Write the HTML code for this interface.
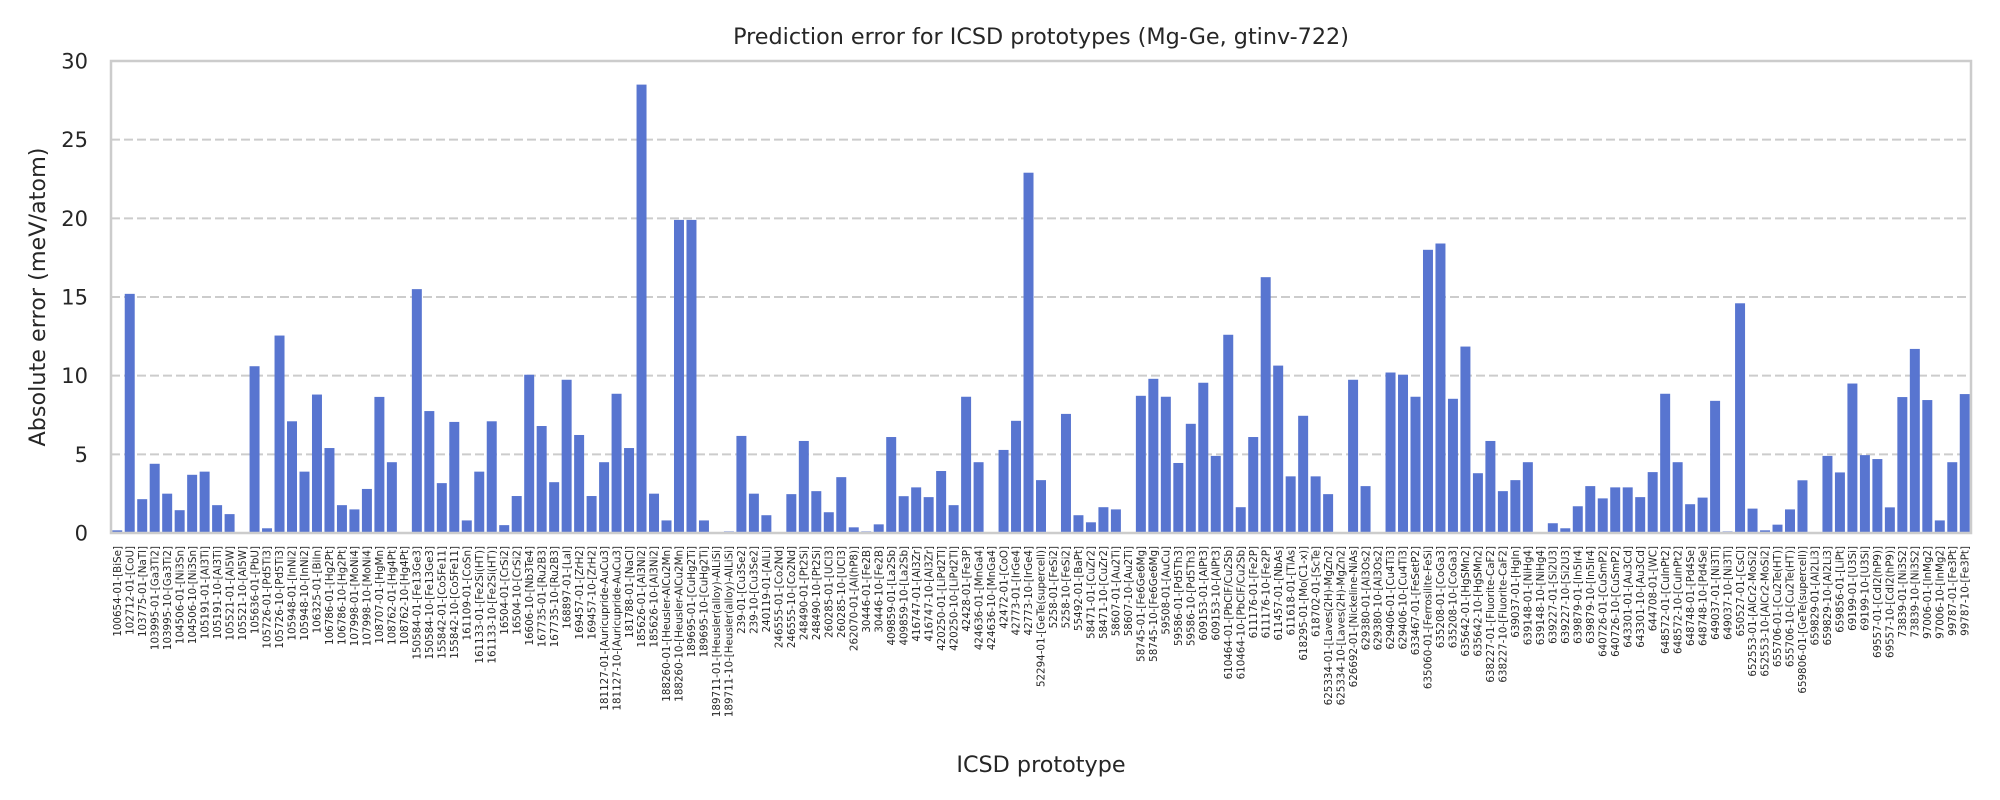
<!DOCTYPE html>
<html><head><meta charset="utf-8"><style>
html,body{margin:0;padding:0;background:#fff;}
svg{display:block;font-family:"DejaVu Sans","Liberation Sans",sans-serif;}
</style></head><body>
<svg id="chart" width="2000" height="800" viewBox="0 0 2000 800" xmlns="http://www.w3.org/2000/svg">
<text x="1041" y="44" font-size="22.3" text-anchor="middle" fill="#262626">Prediction error for ICSD prototypes (Mg-Ge, gtinv-722)</text>
<g id="grid"></g>
<g id="bars"></g>
<rect x="111" y="61" width="1860" height="472" fill="none" stroke="#cccccc" stroke-width="2.5"/>
<g id="yticks"></g>
<g id="xticks"></g>
<text transform="translate(45,297) rotate(-90)" font-size="22.3" text-anchor="middle" fill="#262626">Absolute error (meV/atom)</text>
<text x="1041" y="772" font-size="22.3" text-anchor="middle" fill="#262626">ICSD prototype</text>
</svg>
<script>
const categories = ["100654-01-[BiSe]","102712-01-[CoU]","103775-01-[NaTl]","103995-01-[Ga3Ti2]","103995-10-[Ga3Ti2]","104506-01-[Ni3Sn]","104506-10-[Ni3Sn]","105191-01-[Al3Ti]","105191-10-[Al3Ti]","105521-01-[Al5W]","105521-10-[Al5W]","105636-01-[PbU]","105726-01-[Pd5Ti3]","105726-10-[Pd5Ti3]","105948-01-[InNi2]","105948-10-[InNi2]","106325-01-[BiIn]","106786-01-[Hg2Pt]","106786-10-[Hg2Pt]","107998-01-[MoNi4]","107998-10-[MoNi4]","108707-01-[HgMn]","108762-01-[Hg4Pt]","108762-10-[Hg4Pt]","150584-01-[Fe13Ge3]","150584-10-[Fe13Ge3]","155842-01-[Co5Fe11]","155842-10-[Co5Fe11]","161109-01-[CoSn]","161133-01-[Fe2Si(HT)]","161133-10-[Fe2Si(HT)]","16504-01-[CrSi2]","16504-10-[CrSi2]","16606-10-[Nb3Te4]","167735-01-[Ru2B3]","167735-10-[Ru2B3]","168897-01-[LaI]","169457-01-[ZrH2]","169457-10-[ZrH2]","181127-01-[Auricupride-AuCu3]","181127-10-[Auricupride-AuCu3]","181788-01-[NaCl]","185626-01-[Al3Ni2]","185626-10-[Al3Ni2]","188260-01-[Heusler-AlCu2Mn]","188260-10-[Heusler-AlCu2Mn]","189695-01-[CuHg2Ti]","189695-10-[CuHg2Ti]","189711-01-[Heusler(alloy)-AlLiSi]","189711-10-[Heusler(alloy)-AlLiSi]","239-01-[Cu3Se2]","239-10-[Cu3Se2]","240119-01-[AlLi]","246555-01-[Co2Nd]","246555-10-[Co2Nd]","248490-01-[Pt2Si]","248490-10-[Pt2Si]","260285-01-[UCl3]","260285-10-[UCl3]","262070-01-[Al(hP8)]","30446-01-[Fe2B]","30446-10-[Fe2B]","409859-01-[La2Sb]","409859-10-[La2Sb]","416747-01-[Al3Zr]","416747-10-[Al3Zr]","420250-01-[LiPd2Tl]","420250-10-[LiPd2Tl]","42428-01-[Fe3P]","424636-01-[MnGa4]","424636-10-[MnGa4]","42472-01-[CoO]","42773-01-[IrGe4]","42773-10-[IrGe4]","52294-01-[GeTe(supercell)]","5258-01-[FeSi2]","5258-10-[FeSi2]","55492-01-[BaPt]","58471-01-[CuZr2]","58471-10-[CuZr2]","58607-01-[Au2Ti]","58607-10-[Au2Ti]","58745-01-[Fe6Ge6Mg]","58745-10-[Fe6Ge6Mg]","59508-01-[AuCu]","59586-01-[Pd5Th3]","59586-10-[Pd5Th3]","609153-01-[AlPt3]","609153-10-[AlPt3]","610464-01-[PbClF/Cu2Sb]","610464-10-[PbClF/Cu2Sb]","611176-01-[Fe2P]","611176-10-[Fe2P]","611457-01-[NbAs]","611618-01-[TlAs]","618295-01-[Mo(C1-x)]","618702-01-[ScTe]","625334-01-[Laves(2H)-MgZn2]","625334-10-[Laves(2H)-MgZn2]","626692-01-[Nickeline-NiAs]","629380-01-[Al3Os2]","629380-10-[Al3Os2]","629406-01-[Cu4Ti3]","629406-10-[Cu4Ti3]","633467-01-[FeSetP2]","635060-01-[Ferrosilite-FeSi]","635208-01-[CoGa3]","635208-10-[CoGa3]","635642-01-[HgSMn2]","635642-10-[HgSMn2]","638227-01-[Fluorite-CaF2]","638227-10-[Fluorite-CaF2]","639037-01-[HgIn]","639148-01-[NiHg4]","639148-10-[NiHg4]","639227-01-[Si2U3]","639227-10-[Si2U3]","639879-01-[In5Ir4]","639879-10-[In5Ir4]","640726-01-[CuSmP2]","640726-10-[CuSmP2]","643301-01-[Au3Cd]","643301-10-[Au3Cd]","644708-01-[WC]","648572-01-[CuInPt2]","648572-10-[CuInPt2]","648748-01-[Pd4Se]","648748-10-[Pd4Se]","649037-01-[Ni3Ti]","649037-10-[Ni3Ti]","650527-01-[CsCl]","652553-01-[AlCr2-MoSi2]","652553-10-[AlCr2-MoSi2]","655706-01-[Cu2Te(HT)]","655706-10-[Cu2Te(HT)]","659806-01-[GeTe(supercell)]","659829-01-[Al2Li3]","659829-10-[Al2Li3]","659856-01-[LiPt]","69199-01-[U3Si]","69199-10-[U3Si]","69557-01-[CdI2(hP9)]","69557-10-[CdI2(hP9)]","73839-01-[Ni3S2]","73839-10-[Ni3S2]","97006-01-[InMg2]","97006-10-[InMg2]","99787-01-[Fe3Pt]","99787-10-[Fe3Pt]"];
const errors = [0.17,15.2,2.15,4.4,2.5,1.45,3.7,3.9,1.77,1.2,0.05,10.6,0.3,12.55,7.1,3.9,8.8,5.4,1.77,1.5,2.8,8.65,4.5,0,15.5,7.75,3.17,7.06,0.8,3.9,7.1,0.5,2.35,10.06,6.8,3.23,9.74,6.23,2.35,4.5,8.85,5.4,28.5,2.5,0.8,19.9,19.9,0.8,0,0.1,6.17,2.5,1.13,0.04,2.47,5.85,2.66,1.32,3.55,0.36,0.1,0.55,6.1,2.34,2.9,2.28,3.94,1.77,8.66,4.5,0,5.28,7.13,22.9,3.36,0,7.57,1.13,0.68,1.64,1.5,0,8.72,9.8,8.66,4.45,6.94,9.55,4.9,12.6,1.64,6.1,16.26,10.64,3.6,7.45,3.6,2.47,0.05,9.74,2.98,0,10.2,10.06,8.66,18.0,18.4,8.53,11.85,3.8,5.85,2.66,3.36,4.5,0,0.62,0.3,1.7,2.98,2.2,2.9,2.9,2.28,3.87,8.85,4.5,1.83,2.25,8.4,0.1,14.6,1.55,0.17,0.53,1.5,3.35,0,4.9,3.85,9.5,4.95,4.7,1.63,8.64,11.7,8.45,0.8,4.5,8.83];
const yTicks = [0,5,10,15,20,25,30];

const NS = "http://www.w3.org/2000/svg";
const X0 = 111, X1 = 1971, Y0 = 533, Y1 = 61, YMAX = 30;
function yScale(v){ return Y0 - (v / YMAX) * (Y0 - Y1); }
function bandWidth(){ return (X1 - X0) / categories.length; }
function xCenter(i){ return X0 + (i + 0.5) * bandWidth(); }

const grid = document.getElementById('grid');
const yt = document.getElementById('yticks');
yTicks.forEach(t => {
  const y = yScale(t);
  if (t > 0 && t < YMAX) {
    const l = document.createElementNS(NS, 'line');
    l.setAttribute('x1', X0); l.setAttribute('x2', X1);
    l.setAttribute('y1', y); l.setAttribute('y2', y);
    l.setAttribute('stroke', '#cccccc'); l.setAttribute('stroke-width', '2');
    l.setAttribute('stroke-dasharray', '9,4');
    
    
    grid.appendChild(l);
  }
  const tx = document.createElementNS(NS, 'text');
  tx.setAttribute('x', 88); tx.setAttribute('y', y + 7.5);
  tx.setAttribute('font-size', '21'); tx.setAttribute('text-anchor', 'end');
  tx.setAttribute('fill', '#262626');
  tx.textContent = t;
  
  
  yt.appendChild(tx);
});

const bars = document.getElementById('bars');
const xt = document.getElementById('xticks');
const bw = bandWidth() * 0.8;
categories.forEach((c, i) => {
  const v = errors[i];
  const cx = xCenter(i);
  const r = document.createElementNS(NS, 'rect');
  r.setAttribute('x', cx - bw / 2);
  r.setAttribute('y', yScale(v));
  r.setAttribute('width', bw);
  r.setAttribute('height', Y0 - yScale(v));
  r.setAttribute('fill', '#5875d0');
  
  
  bars.appendChild(r);
  const t = document.createElementNS(NS, 'text');
  t.setAttribute('transform', 'translate(' + (cx + 3.7) + ',546) rotate(-90)');
  t.setAttribute('font-size', '10.3');
  t.setAttribute('text-anchor', 'end');
  t.setAttribute('fill', '#262626');
  t.textContent = c;
  
  
  xt.appendChild(t);
});
</script>
</body></html>
